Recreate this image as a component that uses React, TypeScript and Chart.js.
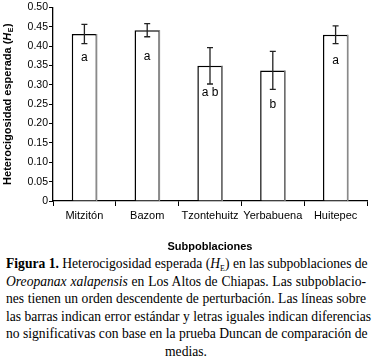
import React, { useEffect, useRef } from "react";
import { Chart, registerables } from "chart.js";

Chart.register(...registerables);

const categories = ["Mitzitón", "Bazom", "Tzontehuitz", "Yerbabuena", "Huitepec"];
const heValues = [0.431, 0.441, 0.349, 0.337, 0.429];
const stdErrors = [0.025, 0.017, 0.047, 0.049, 0.023];
const letters = ["a", "a", "a b", "b", "a"];
const letterY = [0.369, 0.373, 0.279, 0.249, 0.362];
const yTicks = [0, 0.05, 0.1, 0.15, 0.2, 0.25, 0.3, 0.35, 0.4, 0.45, 0.5];

const SANS = "'Liberation Sans', Arial, sans-serif";
const SERIF = "'Liberation Serif', 'Times New Roman', serif";

const overlayPlugin = {
  id: "overlay",
  afterDatasetsDraw(chart: any) {
    const ctx = chart.ctx;
    const meta = chart.getDatasetMeta(0);
    const y = chart.scales.y;
    ctx.save();
    meta.data.forEach((bar: any, i: number) => {
      const half = bar.width / 2;
      const right = bar.x + half;
      ctx.strokeStyle = "#8a8a8a";
      ctx.lineWidth = 1.5;
      ctx.beginPath();
      ctx.moveTo(right - 0.5, bar.y);
      ctx.lineTo(right - 0.5, y.getPixelForValue(0));
      ctx.stroke();
      const top = y.getPixelForValue(heValues[i] + stdErrors[i]);
      const bot = y.getPixelForValue(heValues[i] - stdErrors[i]);
      ctx.strokeStyle = "#222";
      ctx.lineWidth = 1.3;
      ctx.beginPath();
      ctx.moveTo(bar.x, top);
      ctx.lineTo(bar.x, bot);
      ctx.moveTo(bar.x - 3, top);
      ctx.lineTo(bar.x + 3, top);
      ctx.moveTo(bar.x - 3, bot);
      ctx.lineTo(bar.x + 3, bot);
      ctx.stroke();
      ctx.fillStyle = "#000";
      ctx.font = `12px ${SANS}`;
      ctx.textAlign = "center";
      ctx.textBaseline = "middle";
      ctx.fillText(letters[i], bar.x, y.getPixelForValue(letterY[i]));
    });
    const area = chart.chartArea;
    const cy = (area.top + area.bottom) / 2;
    ctx.translate(8, cy);
    ctx.rotate(-Math.PI / 2);
    ctx.textBaseline = "middle";
    ctx.textAlign = "left";
    const p1 = "Heterocigosidad esperada (";
    const fB = `bold 11px ${SANS}`;
    const fI = `italic bold 11px ${SANS}`;
    const fS = `bold 7px ${SANS}`;
    ctx.font = fB;
    const w1 = ctx.measureText(p1).width;
    ctx.font = fI;
    const w2 = ctx.measureText("H").width;
    ctx.font = fS;
    const w3 = ctx.measureText("E").width;
    ctx.font = fB;
    const w4 = ctx.measureText(")").width;
    let x = -(w1 + w2 + w3 + w4 + 1) / 2;
    ctx.fillStyle = "#000";
    ctx.font = fB;
    ctx.fillText(p1, x, 0);
    x += w1;
    ctx.font = fI;
    ctx.fillText("H", x, 0);
    x += w2 + 0.5;
    ctx.font = fS;
    ctx.fillText("E", x, 3);
    x += w3 + 0.5;
    ctx.font = fB;
    ctx.fillText(")", x, 0);
    ctx.restore();
    ctx.save();
    ctx.fillStyle = "#000";
    ctx.font = fB;
    ctx.textAlign = "center";
    ctx.textBaseline = "middle";
    ctx.fillText("Subpoblaciones", (area.left + area.right) / 2, 247);
    ctx.restore();
  },
};

const lineStyle: React.CSSProperties = {
  whiteSpace: "nowrap",
  textAlign: "justify",
  textAlignLast: "justify",
  height: 17.5,
  lineHeight: "17.5px",
};

export default function App() {
  const ref = useRef<HTMLCanvasElement>(null);
  useEffect(() => {
    if (!ref.current) return;
    const chart = new Chart(ref.current, {
      type: "bar",
      data: {
        labels: categories,
        datasets: [
          {
            data: heValues,
            backgroundColor: "#ffffff",
            borderColor: "#000000",
            borderWidth: 1.5,
            borderSkipped: "bottom",
            categoryPercentage: 1,
            barPercentage: 0.403,
          },
        ],
      },
      options: {
        animation: false,
        responsive: false,
        maintainAspectRatio: false,
        layout: { padding: { left: 0, right: 5, top: 6, bottom: 0 } },
        plugins: { legend: { display: false }, tooltip: { enabled: false } },
        scales: {
          x: {
            offset: true,
            grid: {
              offset: true,
              drawOnChartArea: false,
              tickLength: 5,
              color: "#000",
              tickWidth: 1,
            },
            border: { color: "#000", width: 1.3 },
            ticks: {
              color: "#000",
              font: { family: SANS, size: 11 },
              padding: 3,
              maxRotation: 0,
              autoSkip: false,
            },
            afterFit: (s: any) => {
              s.height = 54;
            },
          },
          y: {
            min: 0,
            max: 0.5,
            afterBuildTicks: (s: any) => {
              s.ticks = yTicks.map((v) => ({ value: v }));
            },
            grid: {
              drawOnChartArea: false,
              tickLength: 4,
              color: "#000",
            },
            border: { color: "#000", width: 1.3 },
            ticks: {
              color: "#000",
              font: { family: SANS, size: 10.5 },
              padding: 1,
              callback: (v: any) => (Number(v) === 0 ? "0" : Number(v).toFixed(2)),
            },
            afterFit: (s: any) => {
              s.width = 53;
            },
          },
        },
      },
      plugins: [overlayPlugin],
    });
    return () => chart.destroy();
  }, []);

  return (
    <div style={{ position: "absolute", left: 0, top: 0, width: 372, height: 364, background: "#fff" }}>
      <canvas ref={ref} width={372} height={255} style={{ display: "block", width: 372, height: 255 }} />
      <div
        style={{
          position: "absolute",
          left: 6,
          top: 255,
          width: 360,
          fontFamily: SERIF,
          fontSize: 13.6,
          color: "#000",
        }}
      >
        <div style={lineStyle}>
          <b>Figura 1.</b> Heterocigosidad esperada (<i>H</i>
          <span style={{ fontSize: 8, position: "relative", top: 3 }}>E</span>) en las subpoblaciones de
        </div>
        <div style={lineStyle}>
          <i>Oreopanax xalapensis</i> en Los Altos de Chiapas. Las subpoblacio-
        </div>
        <div style={lineStyle}>nes tienen un orden descendente de perturbación. Las líneas sobre</div>
        <div style={lineStyle}>las barras indican error estándar y letras iguales indican diferencias</div>
        <div style={lineStyle}>no significativas con base en la prueba Duncan de comparación de</div>
        <div style={{ ...lineStyle, textAlign: "center", textAlignLast: "center" }}>medias.</div>
      </div>
    </div>
  );
}
